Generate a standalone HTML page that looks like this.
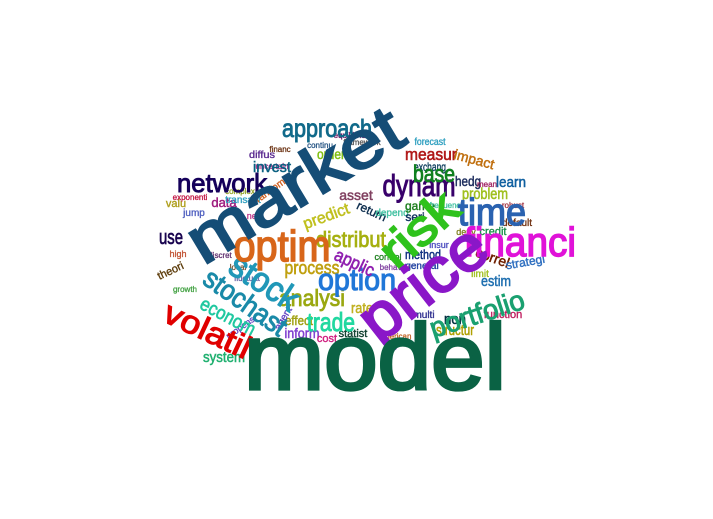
<!DOCTYPE html>
<html><head><meta charset="utf-8"><style>
html,body{margin:0;padding:0;background:#fff;}
svg{display:block;}
text{font-family:"Liberation Sans",sans-serif;font-weight:normal;text-anchor:middle;}
</style></head><body>
<svg width="713" height="519" viewBox="0 0 713 519">
<rect width="713" height="519" fill="#fff"/>
<g id="words">
<!-- small words -->
<text x="262" y="158" font-size="10" fill="#5a2a90" textLength="26" lengthAdjust="spacingAndGlyphs">diffus</text>
<text x="272" y="169" font-size="8" fill="#a02080">uncertain</text>
<text x="280" y="152" font-size="8" fill="#6a3010">financ</text>
<text x="255" y="219" font-size="9" fill="#c04090">new</text>
<text x="176" y="207" font-size="11" fill="#b0a020">valu</text>
<text x="190" y="200" font-size="8" fill="#c01040">exponenti</text>
<text x="224" y="207" font-size="13" fill="#a02080">data</text>
<text x="243" y="203" font-size="10" fill="#30a0c0">transact</text>
<text x="194" y="216" font-size="10" fill="#5060c0">jump</text>
<text x="240" y="194" font-size="8" fill="#90a020">complex</text>
<text x="272" y="193" font-size="10" fill="#d06020" transform="rotate(-35 272 193)">random</text>
<text x="272" y="172" font-size="15" fill="#0a6080" textLength="38" lengthAdjust="spacingAndGlyphs">invest</text>
<text x="331" y="159" font-size="14" fill="#80c010" textLength="28" lengthAdjust="spacingAndGlyphs">order</text>
<text x="320" y="148" font-size="8" fill="#205080">continu</text>
<text x="362" y="145" font-size="8" fill="#505050">framework</text>
<text x="353" y="138" font-size="8" fill="#6a1060">equilibrium</text>
<text x="171" y="244" font-size="20" fill="#1a0550" textLength="24" lengthAdjust="spacingAndGlyphs">use</text>
<text x="178" y="257" font-size="9" fill="#c05030">high</text>
<text x="172" y="274" font-size="11" fill="#604010" transform="rotate(-25 172 274)">theori</text>
<text x="185" y="292" font-size="8" fill="#40a040">growth</text>
<text x="220" y="258" font-size="8" fill="#603070">discret</text>
<text x="238" y="270" font-size="8" fill="#705030">local</text>
<text x="247" y="281" font-size="8" fill="#6060a0">fluctuat</text>
<text x="328" y="221" font-size="16" fill="#c0c020" transform="rotate(-20 328 221)">predict</text>
<text x="356" y="200" font-size="14" fill="#804060">asset</text>
<text x="370" y="215" font-size="12" fill="#103050" transform="rotate(25 370 215)">return</text>
<text x="392" y="216" font-size="10" fill="#40c0a0">depend</text>
<text x="415" y="221" font-size="12" fill="#103060">seri</text>
<text x="420" y="210" font-size="12" fill="#208020">game</text>
<text x="430" y="145" font-size="10" fill="#30a0c0" textLength="31" lengthAdjust="spacingAndGlyphs">forecast</text>
<text x="430" y="171" font-size="12" fill="#104060" textLength="32" lengthAdjust="spacingAndGlyphs">exchang</text>
<text x="431" y="160" font-size="17" fill="#b01818" textLength="52" lengthAdjust="spacingAndGlyphs">measur</text>
<text x="473" y="164" font-size="14" fill="#c07010" transform="rotate(15 473 164)">impact</text>
<text x="468" y="186" font-size="14" fill="#203060" textLength="26" lengthAdjust="spacingAndGlyphs">hedg</text>
<text x="487" y="187" font-size="8" fill="#a02060">mean</text>
<text x="511" y="187" font-size="15" fill="#1060a0" textLength="30" lengthAdjust="spacingAndGlyphs">learn</text>
<text x="485" y="199" font-size="16" fill="#a0c020" textLength="46" lengthAdjust="spacingAndGlyphs">problem</text>
<text x="513" y="208" font-size="8" fill="#a03040">robust</text>
<text x="445" y="208" font-size="8" fill="#40c0a0">frequenc</text>
<text x="517" y="226" font-size="10" fill="#703010">default</text>
<text x="493" y="235" font-size="11" fill="#209050">credit</text>
<text x="466" y="235" font-size="9" fill="#808020">deriv</text>
<text x="423" y="259" font-size="13" fill="#103080" textLength="36" lengthAdjust="spacingAndGlyphs">method</text>
<text x="422" y="269" font-size="10" fill="#2040a0">general</text>
<text x="388" y="260" font-size="9" fill="#208020">control</text>
<text x="395" y="270" font-size="8" fill="#8040a0">behavior</text>
<text x="439" y="248" font-size="9" fill="#5050c0">insur</text>
<text x="491" y="262" font-size="14" fill="#702000" transform="rotate(20 491 262)">correl</text>
<text x="526" y="266" font-size="12" fill="#3070c0" transform="rotate(-10 526 266)">strategi</text>
<text x="480" y="277" font-size="10" fill="#a0c020">limit</text>
<text x="496" y="286" font-size="15" fill="#2070b0" textLength="30" lengthAdjust="spacingAndGlyphs">estim</text>
<text x="362" y="313" font-size="15" fill="#c0b020" textLength="22" lengthAdjust="spacingAndGlyphs">rate</text>
<text x="299" y="325" font-size="13" fill="#a0a010" textLength="28" lengthAdjust="spacingAndGlyphs">effect</text>
<text x="302" y="338" font-size="14" fill="#8040d0" textLength="35" lengthAdjust="spacingAndGlyphs">inform</text>
<text x="327" y="342" font-size="11" fill="#d02080">cost</text>
<text x="353" y="337" font-size="11" fill="#104030">statist</text>
<text x="424" y="318" font-size="10" fill="#303090">multi</text>
<text x="455" y="324" font-size="15" fill="#003040" textLength="22" lengthAdjust="spacingAndGlyphs">non</text>
<text x="455" y="335" font-size="15" fill="#b0a000" textLength="38" lengthAdjust="spacingAndGlyphs">structur</text>
<text x="503" y="318" font-size="11" fill="#c02060">function</text>
<text x="395" y="339" font-size="8" fill="#c06020">american</text>
<text x="224" y="362" font-size="15" fill="#20b070" textLength="42" lengthAdjust="spacingAndGlyphs">system</text>
<text x="286" y="320" font-size="10" fill="#6040c0" transform="rotate(-60 286 320)">agent</text>
<text x="242" y="330" font-size="9" fill="#6040c0" transform="rotate(-35 242 330)">propens</text>
<!-- medium words -->
<text x="222" y="192" font-size="26" fill="#15005a" textLength="90" lengthAdjust="spacingAndGlyphs">network</text>
<text x="327" y="137" font-size="25" fill="#116a8a" textLength="90" lengthAdjust="spacingAndGlyphs">approach</text>
<text x="419" y="196" font-size="31" fill="#38006a" textLength="73" lengthAdjust="spacingAndGlyphs">dynam</text>
<text x="434" y="182" font-size="24" fill="#108020" textLength="42" lengthAdjust="spacingAndGlyphs">base</text>
<text x="351" y="247" font-size="22" fill="#a6b010" textLength="70" lengthAdjust="spacingAndGlyphs">distribut</text>
<text x="312" y="274" font-size="18" fill="#c0a010" textLength="55" lengthAdjust="spacingAndGlyphs">process</text>
<text x="312" y="306" font-size="23" fill="#9aa810" textLength="66" lengthAdjust="spacingAndGlyphs">analysi</text>
<text x="331" y="331" font-size="26" fill="#20d8a0" textLength="48" lengthAdjust="spacingAndGlyphs">trade</text>
<text x="357" y="290" font-size="31" fill="#2077d8" textLength="78" lengthAdjust="spacingAndGlyphs">option</text>
<text transform="translate(352 268) rotate(25)" font-size="18" fill="#9020b0" textLength="42" lengthAdjust="spacingAndGlyphs">applic</text>
<text transform="translate(225 322) rotate(28)" font-size="19" fill="#20c8a0" textLength="60" lengthAdjust="spacingAndGlyphs">econom</text>
<text transform="translate(258 292) rotate(33)" font-size="35" fill="#2198b8" textLength="75" lengthAdjust="spacingAndGlyphs">stock</text>
<text transform="translate(240 310) rotate(35)" font-size="28" fill="#1a8aa8" textLength="95" lengthAdjust="spacingAndGlyphs">stochast</text>
<text transform="translate(203 340) rotate(25)" font-size="32" fill="#e00000" textLength="92" lengthAdjust="spacingAndGlyphs">volatil</text>
<text transform="translate(480 323) rotate(-18)" font-size="28" fill="#1aa070" textLength="98" lengthAdjust="spacingAndGlyphs">portfolio</text>
<text x="492" y="225" font-size="38" fill="#2a62b0" textLength="68" lengthAdjust="spacingAndGlyphs">time</text>
<text x="520" y="256" font-size="41" fill="#e012d8" textLength="112" lengthAdjust="spacingAndGlyphs">financi</text>
<text x="282" y="261" font-size="44" fill="#d8661a" textLength="97" lengthAdjust="spacingAndGlyphs">optim</text>
<!-- big words -->
<text transform="translate(430 242) rotate(-42)" font-size="50" fill="#2fc21c" textLength="88" lengthAdjust="spacingAndGlyphs">risk</text>
<text transform="translate(306 204) rotate(-31)" font-size="66" fill="#154d76" textLength="240" lengthAdjust="spacingAndGlyphs">market</text>
<text transform="translate(436 300) rotate(-38)" font-size="64" fill="#8a17c8" textLength="145" lengthAdjust="spacingAndGlyphs">price</text>
<text x="375" y="389" font-size="93" fill="#0a6244" textLength="262" lengthAdjust="spacingAndGlyphs">model</text>
</g>
</svg>
<script>
document.querySelectorAll('#words text').forEach(function(t){
  var fs = parseFloat(t.getAttribute('font-size'));
  t.setAttribute('stroke', t.getAttribute('fill'));
  t.setAttribute('stroke-width', (fs*0.035).toFixed(2));
});
</script>
</body></html>
